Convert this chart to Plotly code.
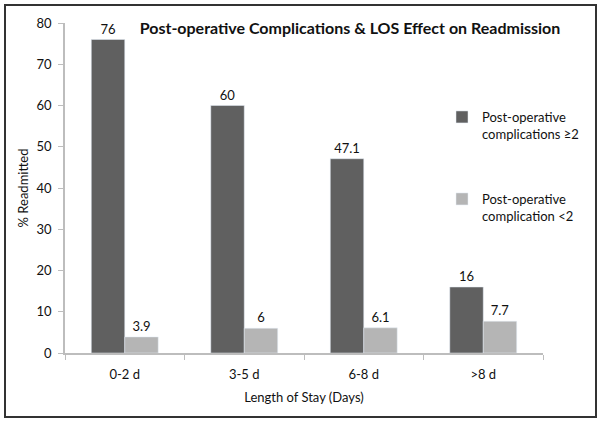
import plotly.graph_objects as go

categories = ["0-2 d", "3-5 d", "6-8 d", ">8 d"]
complications_ge2 = [76, 60, 47.1, 16]
complications_lt2 = [3.9, 6, 6.1, 7.7]
labels_ge2 = ["76", "60", "47.1", "16"]
labels_lt2 = ["3.9", "6", "6.1", "7.7"]
y_ticks = [0, 10, 20, 30, 40, 50, 60, 70, 80]

FONT = "Lato, Open Sans, sans-serif"

fig = go.Figure()
fig.add_trace(go.Bar(
    x=categories, y=complications_ge2, name="Post-operative<br>complications ≥2",
    marker=dict(color="#606060"), text=labels_ge2, textposition="outside",
    textfont=dict(size=13, color="#111"), cliponaxis=False, legend="legend",
    showlegend=True,
))
fig.add_trace(go.Bar(
    x=categories, y=complications_lt2, name="Post-operative<br>complication <2",
    marker=dict(color="#b5b5b5"), text=labels_lt2, textposition="outside",
    textfont=dict(size=13, color="#111"), cliponaxis=False, legend="legend2",
    showlegend=True,
))

L, R, T, B = 65, 58, 23, 70
W, H = 601, 423
pw, ph = W - L - R, H - T - B

def px_x(p):
    return (p - L) / pw

def px_y(p):
    return (H - B - p) / ph

fig.update_layout(
    width=W, height=H,
    margin=dict(l=L, r=R, t=T, b=B, autoexpand=False),
    paper_bgcolor="white", plot_bgcolor="white",
    font=dict(family=FONT, size=13, color="#111"),
    showlegend=True,
    barmode="group", bargap=0.44, bargroupgap=0,
    title=dict(text="<b>Post-operative Complications & LOS Effect on Readmission</b>",
               x=350 / W, xanchor="center", y=1 - 28 / H, yanchor="middle",
               font=dict(size=16, family=FONT, color="#111")),
    xaxis=dict(showline=True, linecolor="#bdbdbd", linewidth=1.5,
               ticks="outside", tickson="boundaries", ticklen=5, tickcolor="#bdbdbd",
               showgrid=False, ticklabelstandoff=9,
               title=dict(text="Length of Stay (Days)", standoff=12, font=dict(size=13))),
    yaxis=dict(range=[0, 80], tickvals=y_ticks, showline=True, linecolor="#bdbdbd",
               linewidth=1.5, ticks="outside", ticklen=5, tickcolor="#bdbdbd",
               showgrid=False, zeroline=False, ticklabelstandoff=4,
               title=dict(text="% Readmitted", standoff=5, font=dict(size=13))),
    legend=dict(x=px_x(442), y=px_y(102), xanchor="left", yanchor="top",
                bgcolor="rgba(0,0,0,0)", font=dict(size=13), valign="top"),
    legend2=dict(x=px_x(442), y=px_y(184), xanchor="left", yanchor="top",
                 bgcolor="rgba(0,0,0,0)", font=dict(size=13), valign="top"),
    shapes=[dict(type="rect", xref="paper", yref="paper",
                 x0=px_x(5), x1=px_x(596), y0=px_y(417), y1=px_y(5),
                 line=dict(color="#333", width=2), layer="below")],
)

fig.write_html("out.html", config={"displayModeBar": False},
               post_script="document.body.style.margin='0';")
